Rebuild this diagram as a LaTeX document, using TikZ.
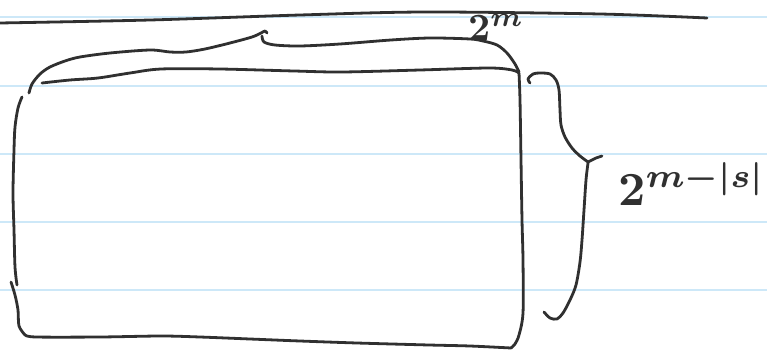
\documentclass[tikz,border=0pt]{standalone}
\usepackage{graphicx}
\definecolor{ink}{RGB}{48,48,48}
\definecolor{rule}{RGB}{205,232,248}
\tikzset{
  pen/.style={draw=ink, line width=2.8pt, line cap=round, line join=round},
  ruled/.style={draw=rule, line width=1.6pt},
  lbl/.style={text=ink, inner sep=0pt, anchor=base west, font=\boldmath}
}
\begin{document}
\begin{tikzpicture}[x=1pt,y=-1pt]
\useasboundingbox (0,0) rectangle (767,350);
\fill[white] (0,0) rectangle (767,350);
% ruled paper lines
\foreach \yy in {17,86,154,222,290} \draw[ruled] (0,\yy) -- (767,\yy);
% top line
\draw[pen] plot[smooth] coordinates {(0,23) (150,20) (300,15) (425,12) (600,14) (707,18)};
% top brace
\draw[pen] plot[smooth] coordinates {(29,93) (32,84) (40,74) (50,67) (65,61) (80,57) (110,53) (150,50) (170,52) (186,52) (205,49) (230,43) (252,37) (261,33) (265,31) (267,33)};
\draw[pen] plot[smooth] coordinates {(262,36) (264,42) (275,45) (300,46) (340,44) (391,40) (430,38) (470,39) (483,41) (497,45) (507,53) (515,64) (519,72)};
% rectangle
\draw[pen] plot[smooth] coordinates {(42,83) (70,80) (98,78) (130,73) (161,69) (220,69) (294,71) (342,72) (420,70) (489,68) (512,70) (519,73)};
\draw[pen] plot[smooth] coordinates {(519,73) (520,100) (521,160) (522,220) (523,260) (523,313) (519,335) (515,344) (511,348)};
\draw[pen] plot[smooth] coordinates {(511,348) (470,346) (429,345) (357,343) (300,341) (250,339) (200,337) (161,336) (100,337) (36,337) (25,335)};
\draw[pen] plot[smooth] coordinates {(25,335) (19,326) (18,310) (15,295) (11,282)};
\draw[pen] plot[smooth] coordinates {(17,285) (15,267) (14,230) (13,193) (14,150) (15,127) (18,108) (22,97)};
% right brace
\draw[pen] plot[smooth] coordinates {(530,83) (528,79) (533,74) (540,73) (550,74) (556,80) (559,90) (560,110) (561,125) (565,137) (572,148) (580,156) (588,162)};
\draw[pen] (588,162) -- (596,158) -- (602,156);
\draw[pen] plot[smooth] coordinates {(588,163) (586,180) (584,210) (582,240) (580,262) (576,285) (570,300) (563,313) (557,319) (550,318) (544,312)};
% labels
\node[lbl] (top) at (468,41) {\resizebox{56pt}{!}{$2^{m}$}};
\node[lbl] (side) at (618,205) {\resizebox{147pt}{!}{$2^{m-|s|}$}};
\end{tikzpicture}
\end{document}
